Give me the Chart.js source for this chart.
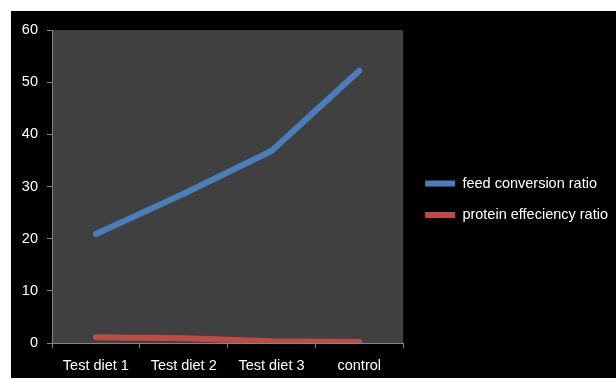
<!DOCTYPE html>
<html>
<head>
<meta charset="utf-8">
<script src="https://cdn.jsdelivr.net/npm/chart.js@4/dist/chart.umd.min.js"></script>
<style>
  html, body { margin: 0; padding: 0; background: #ffffff; width: 616px; height: 378px; overflow: hidden; }
  #wrap { position: absolute; left: 11px; top: 11px; width: 605px; height: 367px; }
</style>
</head>
<body>
<div id="wrap"><canvas id="c" width="605" height="367"></canvas></div>
<script>
const categories = ["Test diet 1", "Test diet 2", "Test diet 3", "control"];
const feedConversionRatio = [20.9, 28.6, 36.8, 52.2];
const proteinEfficiencyRatio = [1.1, 0.9, 0.35, 0.2];
const seriesNames = ["feed conversion ratio", "protein effeciency ratio"];
const yTicks = [0, 10, 20, 30, 40, 50, 60];

const FONT = "'Liberation Sans', Arial, sans-serif";
const AXIS = "#868686";

const backgroundPlugin = {
  id: 'bg',
  beforeDraw(chart) {
    const ctx = chart.ctx, a = chart.chartArea;
    ctx.save();
    ctx.fillStyle = '#000000';
    ctx.fillRect(0, 0, chart.width, chart.height);
    ctx.fillStyle = '#404040';
    ctx.fillRect(a.left, a.top, a.right - a.left, a.bottom - a.top);
    ctx.restore();
    if (chart.legend) {
      chart.legend.left = a.right + 5;
      chart.legend.top = 9.5;
    }
  }
};

new Chart(document.getElementById('c'), {
  type: 'line',
  data: {
    labels: categories,
    datasets: [
      {
        label: seriesNames[0],
        data: feedConversionRatio,
        borderColor: '#4A7EBB',
        backgroundColor: '#4A7EBB',
        borderWidth: 6,
        borderCapStyle: 'round',
        borderJoinStyle: 'round',
        pointRadius: 0,
        tension: 0
      },
      {
        label: seriesNames[1],
        data: proteinEfficiencyRatio,
        borderColor: '#BE4B48',
        backgroundColor: '#BE4B48',
        borderWidth: 6,
        borderCapStyle: 'round',
        borderJoinStyle: 'round',
        pointRadius: 0,
        tension: 0
      }
    ]
  },
  options: {
    responsive: false,
    animation: false,
    layout: { padding: { top: 19, right: 3, bottom: 0, left: 0 } },
    plugins: {
      tooltip: { enabled: false },
      legend: {
        position: 'right',
        align: 'center',
        maxWidth: 213,
        labels: {
          usePointStyle: true,
          pointStyle: 'line',
          pointStyleWidth: 30,
          padding: 17,
          color: '#ffffff',
          font: { family: FONT, size: 14.5 }
        }
      }
    },
    scales: {
      x: {
        offset: true,
        grid: {
          offset: true,
          drawOnChartArea: false,
          drawTicks: true,
          tickLength: 5,
          color: AXIS
        },
        border: { display: true, color: AXIS, width: 1 },
        ticks: {
          color: '#ffffff',
          padding: 9,
          maxRotation: 0,
          autoSkip: false,
          font: { family: FONT, size: 14.5 }
        },
        afterFit(scale) { scale.height = 35; }
      },
      y: {
        min: 0,
        max: 60,
        afterBuildTicks(scale) { scale.ticks = yTicks.map(v => ({ value: v })); },
        grid: {
          drawOnChartArea: false,
          drawTicks: true,
          tickLength: 5,
          color: AXIS
        },
        border: { display: true, color: AXIS, width: 1 },
        ticks: {
          color: '#ffffff',
          padding: 9,
          font: { family: FONT, size: 14.5 }
        },
        afterFit(scale) { scale.width = 41; }
      }
    }
  },
  plugins: [backgroundPlugin]
});
</script>
</body>
</html>
